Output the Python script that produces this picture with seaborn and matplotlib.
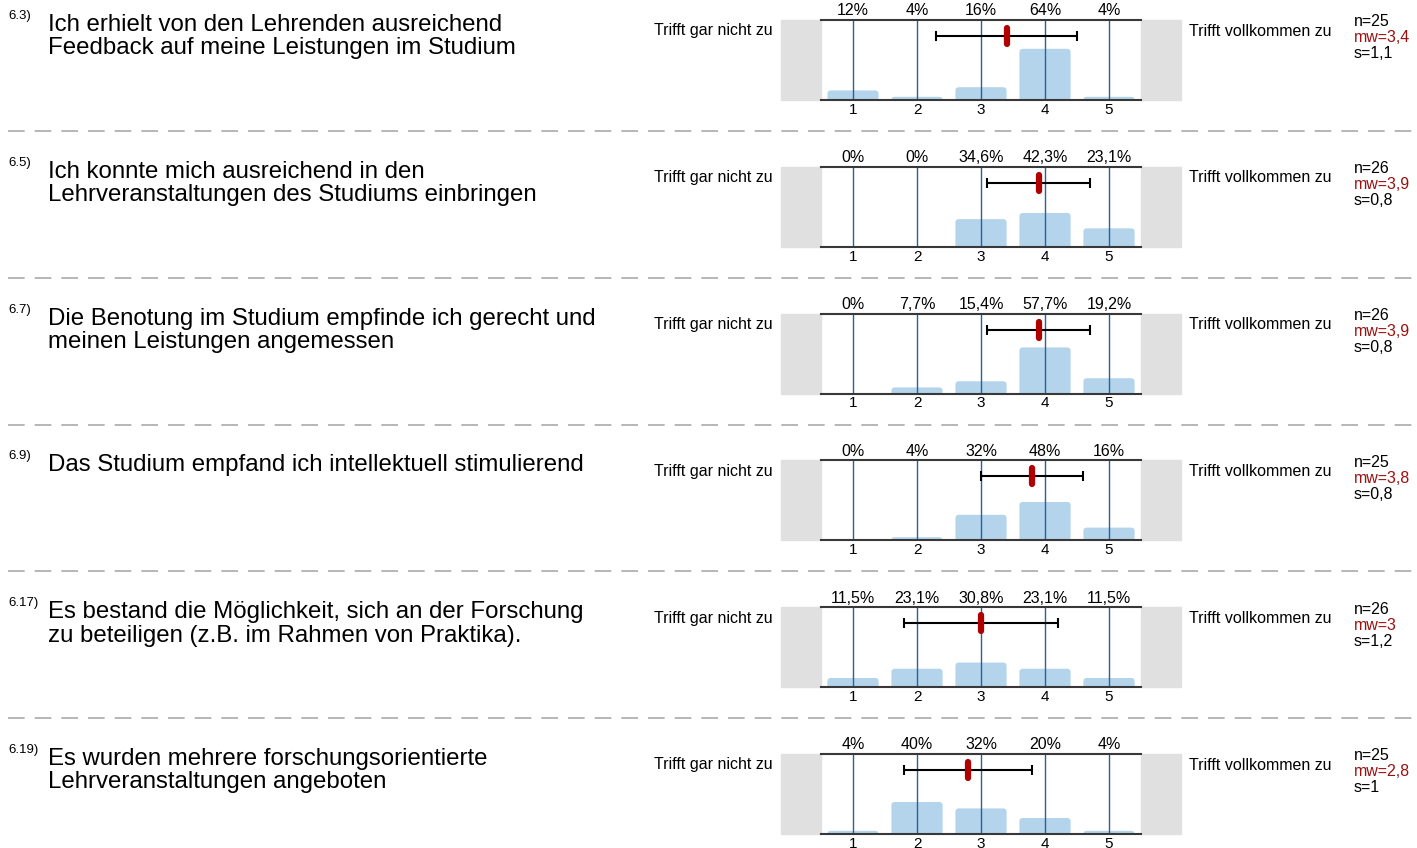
import matplotlib
matplotlib.use("Agg")
import matplotlib.pyplot as plt
import seaborn as sns
import pandas as pd
from matplotlib.lines import Line2D
from matplotlib.patches import Rectangle, FancyBboxPatch

# Daten
nummern = ["6.3)", "6.5)", "6.7)", "6.9)", "6.17)", "6.19)"]
fragen = [
    "Ich erhielt von den Lehrenden ausreichend\nFeedback auf meine Leistungen im Studium",
    "Ich konnte mich ausreichend in den\nLehrveranstaltungen des Studiums einbringen",
    "Die Benotung im Studium empfinde ich gerecht und\nmeinen Leistungen angemessen",
    "Das Studium empfand ich intellektuell stimulierend",
    "Es bestand die Möglichkeit, sich an der Forschung\nzu beteiligen (z.B. im Rahmen von Praktika).",
    "Es wurden mehrere forschungsorientierte\nLehrveranstaltungen angeboten",
]
stufen = [1, 2, 3, 4, 5]
prozente = [
    [12, 4, 16, 64, 4],
    [0, 0, 34.6, 42.3, 23.1],
    [0, 7.7, 15.4, 57.7, 19.2],
    [0, 4, 32, 48, 16],
    [11.5, 23.1, 30.8, 23.1, 11.5],
    [4, 40, 32, 20, 4],
]
n_werte = [25, 26, 26, 25, 26, 25]
mittelwerte = [3.4, 3.9, 3.9, 3.8, 3.0, 2.8]
std_abw = [1.1, 0.8, 0.8, 0.8, 1.2, 1.0]
links_label = "Trifft gar nicht zu"
rechts_label = "Trifft vollkommen zu"

W, H = 1417, 848
ZEILE = 146.8

sns.set_style("white")
plt.rcParams['font.family'] = ['Liberation Sans', 'DejaVu Sans']
plt.rcParams['text.color'] = 'black'
plt.rcParams['xtick.color'] = 'black'

fig = plt.figure(figsize=(W / 100, H / 100), dpi=100)


def fmt(v):
    return f"{v:g}".replace(".", ",")


def fx(x):
    return x / W


def fy(y):
    return 1 - y / H


# Abrundung der Balken: 1 px = 1/64 in x, 1.25 in y
R_X = 3.5 / 64
ASPEKT = 1.25 * 64

for i in range(len(fragen)):
    top = 20 + i * ZEILE
    ax = fig.add_axes([fx(821), fy(top + 80), 320 / W, 80 / H])

    df = pd.DataFrame({"stufe": stufen, "prozent": prozente[i]})
    sns.barplot(data=df, x="stufe", y="prozent", native_scale=True,
                color="#b4d4eb", saturation=1, width=0.8, errorbar=None,
                ax=ax, zorder=1)

    # Balken mit runden Ecken ersetzen
    for bar in list(ax.patches):
        x0, w, h = bar.get_x(), bar.get_width(), bar.get_height()
        fc = bar.get_facecolor()
        bar.remove()
        if h <= 0:
            continue
        r_y = R_X * ASPEKT
        rund = FancyBboxPatch((x0, -r_y), w, h + r_y,
                              boxstyle=f"round,pad=0,rounding_size={R_X}",
                              mutation_aspect=ASPEKT, fc=fc, ec="none",
                              zorder=1)
        ax.add_patch(rund)

    for s in stufen:
        ax.axvline(s, color="#2a5fa3", lw=1, zorder=2)

    ax.set_xlim(0.5, 5.5)
    ax.set_ylim(0, 100)
    ax.set_xticks(stufen)
    ax.set_xticklabels([str(s) for s in stufen])
    ax.set_yticks([])
    ax.set_xlabel("")
    ax.set_ylabel("")
    ax.tick_params(axis="x", length=0, pad=2, labelsize=11)
    for side in ["left", "right"]:
        ax.spines[side].set_visible(False)
    for side in ["top", "bottom"]:
        ax.spines[side].set_color("#383838")
        ax.spines[side].set_linewidth(1.5)
        ax.spines[side].set_zorder(5)

    # graue Kaesten links und rechts
    ax.add_patch(Rectangle((-0.125, 0), 0.125, 1, transform=ax.transAxes,
                           color="#e0e0e0", clip_on=False, zorder=0))
    ax.add_patch(Rectangle((1.0, 0), 0.125, 1, transform=ax.transAxes,
                           color="#e0e0e0", clip_on=False, zorder=0))

    # Prozentwerte oben
    for s, p in zip(stufen, prozente[i]):
        ax.text(s, 1.02, fmt(p) + "%", transform=ax.get_xaxis_transform(),
                ha="center", va="bottom", fontsize=11.5)

    # Mittelwert und Standardabweichung
    ax.errorbar(mittelwerte[i], 80, xerr=std_abw[i], color="black", lw=1.5,
                capsize=3.6, capthick=1.5, zorder=6)
    ax.plot([mittelwerte[i], mittelwerte[i]], [70, 90], color="#b00000",
            lw=4.5, solid_capstyle="round", zorder=7)

    # Texte
    fig.text(fx(8), fy(top - 4), nummern[i], fontsize=9.5, va="center")
    fig.text(fx(48), fy(top - 6), fragen[i], fontsize=17.3, va="top",
             linespacing=1.08)
    fig.text(fx(773), fy(top + 11), links_label, fontsize=11.5, ha="right",
             va="center")
    fig.text(fx(1189), fy(top + 11), rechts_label, fontsize=11.5, ha="left",
             va="center")
    fig.text(fx(1354), fy(top + 2), f"n={n_werte[i]}", fontsize=11.5,
             va="center")
    fig.text(fx(1354), fy(top + 18), f"mw={fmt(mittelwerte[i])}",
             fontsize=11.5, va="center", color="#9b1111")
    fig.text(fx(1354), fy(top + 34), f"s={fmt(std_abw[i])}", fontsize=11.5,
             va="center")

    # gestrichelte Trennlinie
    if i < len(fragen) - 1:
        y = fy(top + 111)
        fig.add_artist(Line2D([fx(8), 1], [y, y], transform=fig.transFigure,
                              color="#aaaaaa", lw=1.2, dashes=(10, 6)))

fig.savefig("out.png", dpi=100)
